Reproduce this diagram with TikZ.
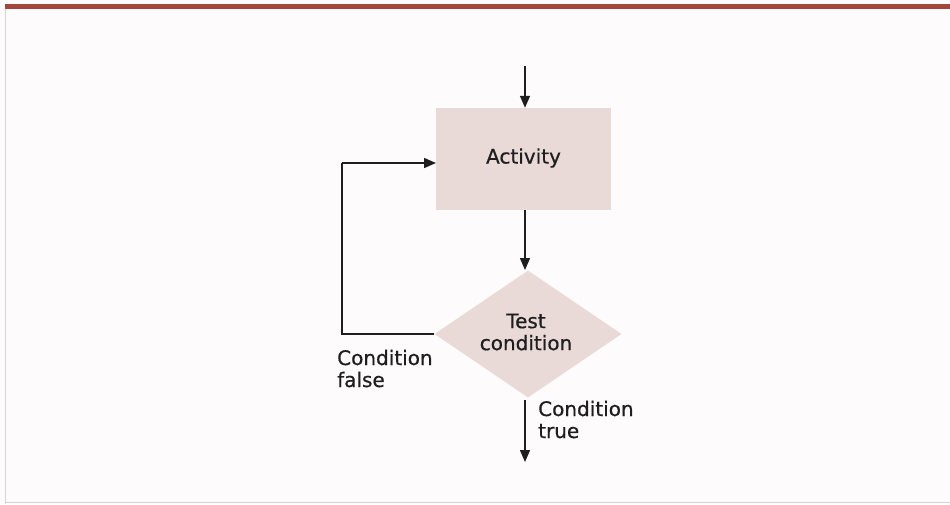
\documentclass[tikz,border=0pt]{standalone}
\usepackage{fontspec}
\setmainfont[FakeBold=0.6]{DejaVu Sans}
\usetikzlibrary{arrows.meta,shapes.geometric}
\definecolor{boxfill}{HTML}{E9DAD8}
\definecolor{barred}{HTML}{A3473D}
\definecolor{bg}{HTML}{FDFBFB}
\definecolor{edge}{HTML}{D8D4D4}
\definecolor{ink}{HTML}{1E1E1E}
\tikzset{
  flow/.style={draw=ink, line width=1.5pt, -{Triangle[width=10pt,length=12pt]}},
  plain/.style={draw=ink, line width=1.5pt},
  lbl/.style={font=\fontsize{20}{22}\selectfont, text=ink, align=left, inner sep=0pt},
  ctext/.style={font=\fontsize{20}{22}\selectfont, text=ink, align=center},
}
\begin{document}
\begin{tikzpicture}[x=1pt,y=-1pt]
\useasboundingbox (0,0) rectangle (950,504);
\fill[bg] (0,0) rectangle (950,504);
\fill[barred] (5,4) rectangle (950,9);
\draw[edge, line width=1pt] (5,9) -- (5,504);
\draw[edge, line width=1pt] (5,502) -- (950,502);
% nodes
\node[fill=boxfill, minimum width=175pt, minimum height=102pt, inner sep=0pt, anchor=center] (act) at (523.5,159) {};
\node[ctext] (acttext) at (523.5,158) {Activity};
\node[diamond, fill=boxfill, minimum width=187pt, minimum height=127pt, inner sep=0pt, aspect=1.47] (dia) at (528,334) {};
\node[ctext, anchor=center] (diatext) at (526,332) {Test\\condition};
\coordinate (start) at (525,66);
\coordinate (loopB) at (342,163);
\coordinate (tin) at (436,163);
\coordinate (bstart) at (525,400);
\coordinate (bend) at (525,462);
\coordinate (actbot) at (525,210);
\coordinate (diatop) at (525,270);
% connectors
\draw[flow] (start) -- (act.north -| start);
\draw[flow] (actbot) -- (diatop);
\draw[plain] (dia.west) -- (dia.west -| loopB) -- (loopB);
\draw[flow] (loopB) -- (tin);
\draw[flow] (bstart) -- (bend);
% labels
\node[lbl, anchor=base west] (lf) at (337,387) {Condition\\false};
\node[lbl, anchor=base west] (lt) at (538,438) {Condition\\true};
\end{tikzpicture}
\end{document}
